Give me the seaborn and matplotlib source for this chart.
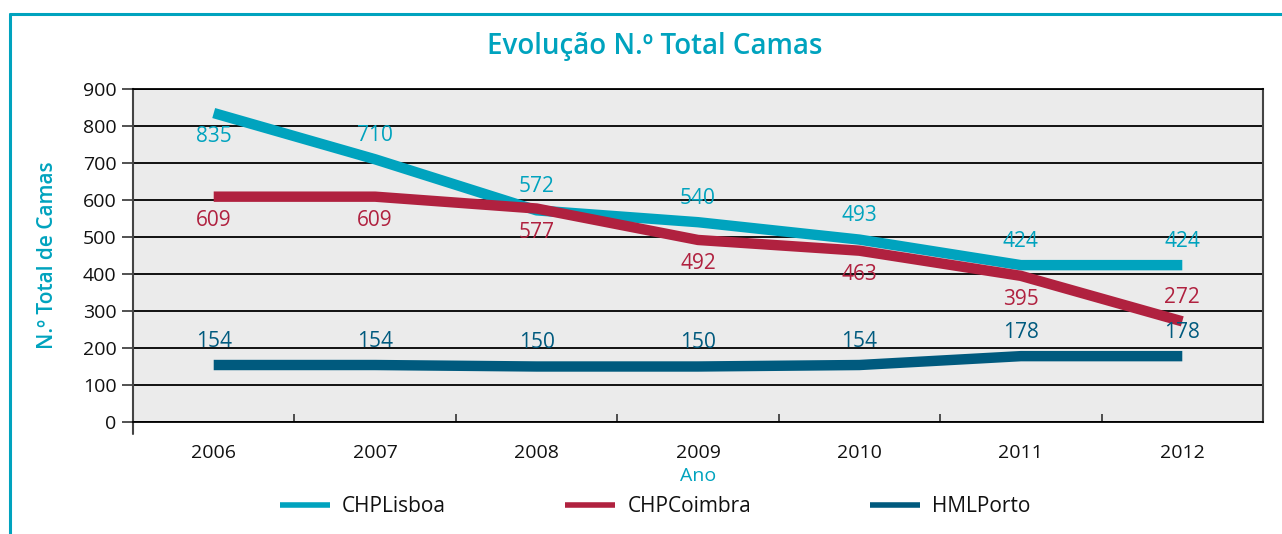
import numpy as np
import pandas as pd
import seaborn as sns
import matplotlib.pyplot as plt
from matplotlib.lines import Line2D

# data
anos = [2006, 2007, 2008, 2009, 2010, 2011, 2012]
chp_lisboa = [835, 710, 572, 540, 493, 424, 424]
chp_coimbra = [609, 609, 577, 492, 463, 395, 272]
hml_porto = [154, 154, 150, 150, 154, 178, 178]

series = ["CHPLisboa", "CHPCoimbra", "HMLPorto"]
cores = {"CHPLisboa": "#00A3BE", "CHPCoimbra": "#B0213F", "HMLPorto": "#005A7E"}
# label position per point: +1 above the line, -1 below
lado = {
    "CHPLisboa": [-1, 1, 1, 1, 1, 1, 1],
    "CHPCoimbra": [-1, -1, -1, -1, -1, -1, 1],
    "HMLPorto": [1, 1, 1, 1, 1, 1, 1],
}

df = pd.DataFrame({
    "Ano": anos * 3,
    "Camas": chp_lisboa + chp_coimbra + hml_porto,
    "Serie": [s for s in series for _ in anos],
})

sns.set_style("white")
plt.rcParams["font.family"] = ["Open Sans", "DejaVu Sans"]

fig = plt.figure(figsize=(12.82, 5.34), dpi=100)
ax = fig.add_axes([133 / 1282, 1 - 422 / 534, 1130 / 1282, 333 / 534])
ax.set_facecolor("#EBEBEB")

sns.lineplot(data=df, x="Ano", y="Camas", hue="Serie", hue_order=series,
             palette=cores, linewidth=7.5, ax=ax, legend=False, zorder=3,
             solid_capstyle="butt")

for s in series:
    vals = df[df["Serie"] == s]["Camas"].tolist()
    for x, v, d in zip(anos, vals, lado[s]):
        ax.annotate(str(v), (x, v), xytext=(0, 17 * d), textcoords="offset points",
                    ha="center", va="center", fontsize=15,
                    color=cores[s], zorder=4)

ax.set_xlim(2005.5, 2012.5)
ax.set_ylim(0, 900)
ax.set_yticks(range(0, 901, 100))
ax.set_xticks(anos)
ax.set_xticks([a + 0.5 for a in anos[:-1]], minor=True)
ax.yaxis.grid(True, color="black", linewidth=1.3, zorder=1)
ax.set_axisbelow(True)
ax.tick_params(axis="y", which="major", left=True, length=8, width=1.2,
               color="#333333", labelsize=14, pad=4, labelcolor="#111111")
ax.tick_params(axis="x", which="major", bottom=False, labelsize=14, pad=12,
               labelcolor="#111111")
ax.tick_params(axis="x", which="minor", bottom=True, direction="in",
               length=6, width=1.2, color="#333333")

for sp in ["left", "right"]:
    ax.spines[sp].set_color("#444444")
    ax.spines[sp].set_linewidth(1.5)
for sp in ["top", "bottom"]:
    ax.spines[sp].set_color("black")
    ax.spines[sp].set_linewidth(1.3)
# left spine runs a little below zero
ax.plot([0, 0], [0, -0.035], transform=ax.transAxes, color="#444444",
        linewidth=1.5, clip_on=False)

ax.set_xlabel("Ano", fontsize=14, color="#00A3BE", labelpad=4)
ax.set_ylabel("N.º Total de Camas", fontsize=15, color="#00A3BE",
              fontweight="semibold")
ax.yaxis.set_label_coords(-0.066, 0.5)

fig.suptitle("Evolução N.º Total Camas", x=0.511, y=0.94, fontsize=20,
             fontweight="semibold", color="#00A3BE")

handles = [Line2D([0], [0], color=cores[s], linewidth=4, solid_capstyle="butt")
           for s in series]
fig.legend(handles, series, loc="center", bbox_to_anchor=(0.511, 0.051), ncol=3,
           frameon=False, fontsize=15, handlelength=2.4, columnspacing=5.7,
           handletextpad=0.6, labelcolor="#111111")

# teal frame lines (top and left)
fig.add_artist(Line2D([10 / 1282, 1], [1 - 14 / 534, 1 - 14 / 534],
                      color="#00A3BE", linewidth=2.2))
fig.add_artist(Line2D([10 / 1282, 10 / 1282], [1 - 14 / 534, 0],
                      color="#00A3BE", linewidth=2.2))

plt.savefig("out.png", dpi=100)
